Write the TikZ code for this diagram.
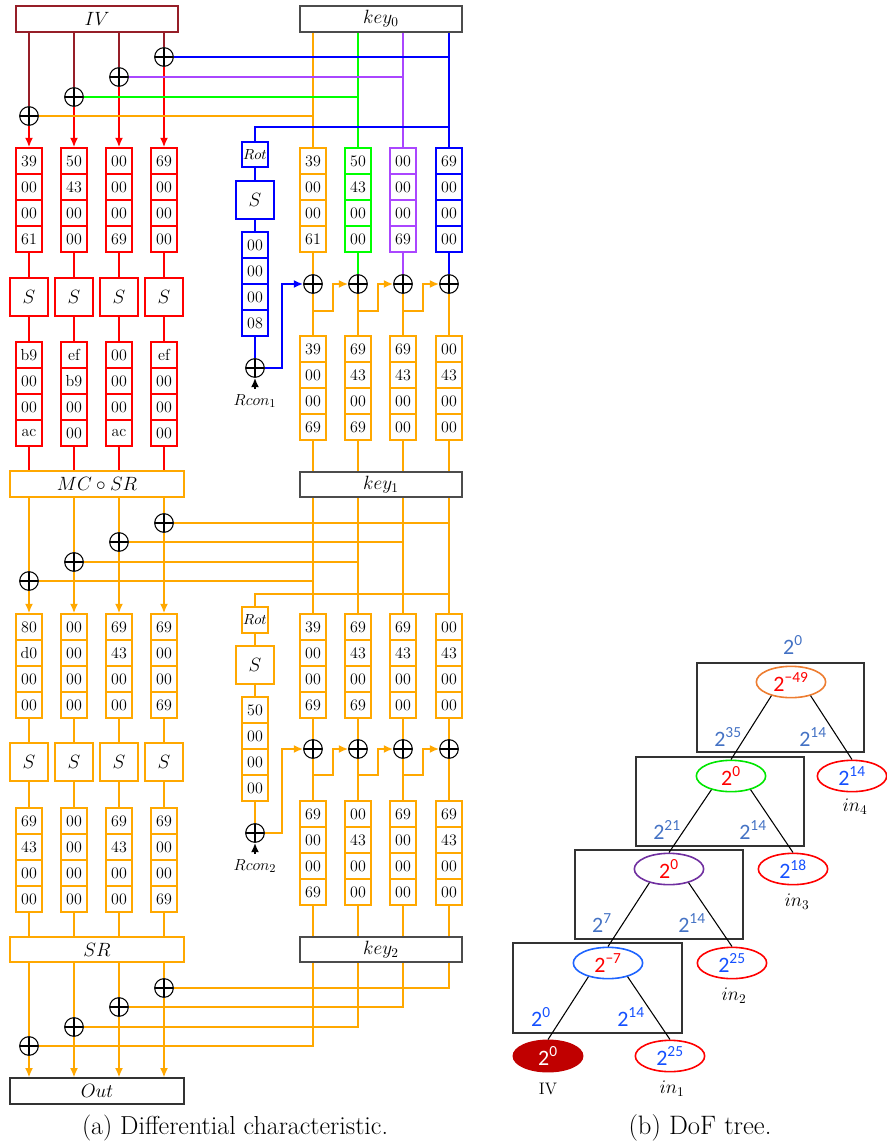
\documentclass[tikz,border=0pt]{standalone}
\usepackage{fontspec}
\usetikzlibrary{arrows.meta,shapes.geometric}
\newfontfamily\calfont{Carlito}

\definecolor{ivred}{RGB}{150,30,40}
\definecolor{orng}{RGB}{255,168,0}
\definecolor{prpl}{RGB}{170,70,255}
\definecolor{lgreen}{RGB}{0,255,0}
\definecolor{trorange}{RGB}{237,125,49}
\definecolor{trgreen}{RGB}{0,230,0}
\definecolor{trpurple}{RGB}{112,48,160}
\definecolor{trblue}{RGB}{30,100,255}
\definecolor{ivfill}{RGB}{192,0,0}
\definecolor{lblblue}{RGB}{68,114,196}
\definecolor{inblue}{RGB}{20,80,255}

\tikzset{
  cell/.style={draw=#1, line width=1.2pt, minimum width=19.5pt, minimum height=19.5pt, inner sep=0pt, font=\fontsize{12}{12}\selectfont},
  sbox/.style={draw=#1, line width=1.3pt, minimum size=29pt, inner sep=0pt, font=\fontsize{15}{15}\selectfont},
  rotbox/.style={draw=#1, line width=1.3pt, minimum width=19.5pt, minimum height=19pt, inner sep=0pt, font=\fontsize{10.5}{10.5}\selectfont},
  bar/.style={draw=#1, line width=1.3pt, minimum width=131pt, minimum height=19pt, inner sep=0pt, font=\fontsize{14}{14}\selectfont},
  keybar/.style={bar=black!70, minimum width=121.5pt, font=\fontsize{14}{14}\selectfont},
  xor/.style={circle, draw=black, line width=0.8pt, minimum size=14pt, inner sep=0pt,
    path picture={\draw[black, line width=0.8pt] (path picture bounding box.north) -- (path picture bounding box.south)
      (path picture bounding box.west) -- (path picture bounding box.east);}},
  tnode/.style={ellipse, draw=#1, line width=1.2pt, minimum width=52pt, minimum height=23.5pt, inner sep=0pt, text=red, font=\calfont\fontsize{16.5}{16.5}\selectfont},
  innode/.style={tnode=red, text=inblue},
  tlabel/.style={text=#1, font=\calfont\fontsize{16.5}{16.5}\selectfont},
  leaf/.style={font=\fontsize{14}{14}\selectfont},
  rconlbl/.style={font=\fontsize{12.5}{12.5}\selectfont},
}

% one column of four byte cells: name, x, y of first cell, colour, values
\newcommand{\cellcol}[5]{%
  \foreach \v [count=\i] in {#5}
    \node[cell=#4] (#1-\i) at (#2,{#3+26*(\i-1)}) {\v};
}
\newcommand{\pw}[1]{2\textsuperscript{#1}}

\begin{document}
\begin{tikzpicture}[x=0.75pt, y=-0.75pt, line width=1.25pt, >={Latex[length=7pt,width=6pt]}]
  \useasboundingbox (0,0) rectangle (886,1145);

  % Round 1: state
  \node[bar=ivred, minimum width=121.5pt] (iv) at (97,19) {$IV$};
  \foreach \x/\y [count=\i] in {29/116,74/97,119/77,164/57}
    \node[xor] (ax\i) at (\x,\y) {};
  \cellcol{a1}{29}{161}{red}{39,00,00,61}
  \cellcol{a2}{74}{161}{red}{50,43,00,00}
  \cellcol{a3}{119}{161}{red}{00,00,00,69}
  \cellcol{a4}{164}{161}{red}{69,00,00,00}
  \foreach \x [count=\i] in {29,74,119,164}
    \node[sbox=red] (as\i) at (\x,297) {$S$};
  \cellcol{b1}{29}{355}{red}{b9,00,00,ac}
  \cellcol{b2}{74}{355}{red}{ef,b9,00,00}
  \cellcol{b3}{119}{355}{red}{00,00,00,ac}
  \cellcol{b4}{164}{355}{red}{ef,00,00,00}
  \node[bar=orng] (mcsr) at (97,484) {$MC\circ SR$};

  % Round 1: key
  \node[keybar] (key0) at (381,19) {$key_0$};
  \cellcol{ka1}{313}{161}{orng}{39,00,00,61}
  \cellcol{ka2}{358}{161}{lgreen}{50,43,00,00}
  \cellcol{ka3}{403}{161}{prpl}{00,00,00,69}
  \cellcol{ka4}{449}{161}{blue}{69,00,00,00}
  \node[rotbox=blue] (rot1) at (255,154.5) {$Rot$};
  \node[sbox=blue] (ks1) at (255,200) {$S$};
  \cellcol{kr1}{255}{245}{blue}{00,00,00,08}
  \node[xor] (rx1) at (255,368) {};
  \node[rconlbl] (rc1) at (255,401) {$Rcon_1$};
  \foreach \x [count=\i] in {313,358,403,449}
    \node[xor] (kx\i) at (\x,284) {};
  \cellcol{kb1}{313}{349}{orng}{39,00,00,69}
  \cellcol{kb2}{358}{349}{orng}{69,43,00,69}
  \cellcol{kb3}{403}{349}{orng}{69,43,00,00}
  \cellcol{kb4}{449}{349}{orng}{00,43,00,00}
  \node[keybar] (key1) at (381,484.5) {$key_1$};

  \foreach \i in {1,...,4} {
    \draw[ivred] (iv.south -| ax\i) -- (ax\i.north);
    \draw[red,->] (ax\i.south) -- (a\i-1.north);
    \draw[red] (a\i-4.south) -- (as\i.north) (as\i.south) -- (b\i-1.north)
      (b\i-4.south) -- (mcsr.north -| b\i-4);
    \draw[orng] (kx\i.south) -- (kb\i-1.north) (kb\i-4.south) -- (key1.north -| kb\i-4);
  }
  \foreach \i/\c in {1/orng,2/lgreen,3/prpl,4/blue} {
    \draw[\c] (key0.south -| ka\i-1) -- (ka\i-1.north);
    \draw[\c] (ax\i.east) -- (ax\i.east -| ka\i-1);
    \draw[\c] (ka\i-4.south) -- (kx\i.north);
  }
  \draw[blue] (rot1.north) -- ++(0,-14) coordinate (t1) -- (t1 -| ka4-1);
  \draw[blue] (rot1.south) -- (ks1.north) (ks1.south) -- (kr1-1.north) (kr1-4.south) -- (rx1.north);
  \draw[->] (rc1.north) -- (rx1.south);
  \draw[blue,->] (rx1.east) -- ++(17,0) |- (kx1.west);
  \foreach \i [evaluate=\i as \j using int(\i+1)] in {1,2,3}
    \draw[orng,->] (kx\i.south) -- ++(0,17) -- ++(20,0) |- (kx\j.west);

  % Round 2: state
  \foreach \x/\y [count=\i] in {29/581,74/562,119/542,164/523}
    \node[xor] (bx\i) at (\x,\y) {};
  \cellcol{c1}{29}{627}{orng}{80,d0,00,00}
  \cellcol{c2}{74}{627}{orng}{00,00,00,00}
  \cellcol{c3}{119}{627}{orng}{69,43,00,00}
  \cellcol{c4}{164}{627}{orng}{69,00,00,69}
  \foreach \x [count=\i] in {29,74,119,164}
    \node[sbox=orng] (cs\i) at (\x,762) {$S$};
  \cellcol{d1}{29}{821}{orng}{69,43,00,00}
  \cellcol{d2}{74}{821}{orng}{00,00,00,00}
  \cellcol{d3}{119}{821}{orng}{69,43,00,00}
  \cellcol{d4}{164}{821}{orng}{69,00,00,69}
  \node[bar=orng] (sr) at (97,949.5) {$SR$};

  % Round 2: key
  \cellcol{kc1}{313}{627}{orng}{39,00,00,69}
  \cellcol{kc2}{358}{627}{orng}{69,43,00,69}
  \cellcol{kc3}{403}{627}{orng}{69,43,00,00}
  \cellcol{kc4}{449}{627}{orng}{00,43,00,00}
  \node[rotbox=orng] (rot2) at (255,620) {$Rot$};
  \node[sbox=orng] (ks2) at (255,665) {$S$};
  \cellcol{kr2}{255}{710}{orng}{50,00,00,00}
  \node[xor] (rx2) at (255,833) {};
  \node[rconlbl] (rc2) at (255,866) {$Rcon_2$};
  \foreach \x [count=\i] in {313,358,403,449}
    \node[xor] (ky\i) at (\x,749) {};
  \cellcol{kd1}{313}{814}{orng}{69,00,00,69}
  \cellcol{kd2}{358}{814}{orng}{00,43,00,00}
  \cellcol{kd3}{403}{814}{orng}{69,00,00,00}
  \cellcol{kd4}{449}{814}{orng}{69,43,00,00}
  \node[keybar] (key2) at (381,949.5) {$key_2$};

  % Output
  \foreach \x/\y [count=\i] in {29/1046,74/1027,119/1007,164/988}
    \node[xor] (cx\i) at (\x,\y) {};
  \node[bar=black!80] (out) at (97,1091) {$Out$};

  \foreach \i in {1,...,4} {
    \draw[orng] (mcsr.south -| b\i-4) -- (bx\i.north);
    \draw[orng,->] (bx\i.south) -- (c\i-1.north);
    \draw[orng] (bx\i.east) -- (bx\i.east -| kc\i-1);
    \draw[orng] (key1.south -| kc\i-1) -- (kc\i-1.north);
    \draw[orng] (c\i-4.south) -- (cs\i.north) (cs\i.south) -- (d\i-1.north)
      (d\i-4.south) -- (sr.north -| d\i-4);
    \draw[orng] (kc\i-4.south) -- (ky\i.north) (ky\i.south) -- (kd\i-1.north)
      (kd\i-4.south) -- (key2.north -| kd\i-4);
    \draw[orng] (sr.south -| d\i-4) -- (cx\i.north);
    \draw[orng,->] (cx\i.south) -- (out.north -| cx\i);
    \draw[orng] (cx\i.east) -- (cx\i.east -| kd\i-4) -- (key2.south -| kd\i-4);
  }
  \draw[orng] (rot2.north) -- ++(0,-12.5) coordinate (t2) -- (t2 -| kc4-1);
  \draw[orng] (rot2.south) -- (ks2.north) (ks2.south) -- (kr2-1.north) (kr2-4.south) -- (rx2.north);
  \draw[->] (rc2.north) -- (rx2.south);
  \draw[orng,->] (rx2.east) -- ++(17,0) |- (ky1.west);
  \foreach \i [evaluate=\i as \j using int(\i+1)] in {1,2,3}
    \draw[orng,->] (ky\i.south) -- ++(0,16) -- ++(20,0) |- (ky\j.west);

  \node[font=\fontsize{19.5}{22}\selectfont] (capa) at (235,1128) {(a) Differential characteristic.};

  % DoF tree
  \draw[line width=1.2pt, black!80] (697,663) rectangle (864,752);
  \draw[line width=1.2pt, black!80] (636,757) rectangle (804,846);
  \draw[line width=1.2pt, black!80] (575,850) rectangle (743,939);
  \draw[line width=1.2pt, black!80] (513,943) rectangle (682,1033);

  \node[tnode=trorange] (n4) at (791,682) {\pw{−49}};
  \node[tnode=trgreen] (n3) at (731,776) {\pw{0}};
  \node[tnode=trpurple] (n2) at (669,869) {\pw{0}};
  \node[tnode=trblue] (n1) at (608,963) {\pw{−7}};
  \node[innode] (in4) at (852,776) {\pw{14}};
  \node[innode] (in3) at (793,869) {\pw{18}};
  \node[innode] (in2) at (732,963) {\pw{25}};
  \node[innode] (in1) at (670,1056) {\pw{25}};
  \node[tnode=ivfill, fill=ivfill, text=white] (ivl) at (548,1056) {\pw{0}};

  \draw[line width=0.8pt] (n4.215) -- (n3.north) (n4.325) -- (in4.north);
  \draw[line width=0.8pt] (n3.215) -- (n2.north) (n3.325) -- (in3.north);
  \draw[line width=0.8pt] (n2.215) -- (n1.north) (n2.325) -- (in2.north);
  \draw[line width=0.8pt] (n1.215) -- (ivl.north) (n1.325) -- (in1.north);

  \node[tlabel=lblblue] (top) at (793,645) {\pw{0}};
  \node[tlabel=lblblue] (l4a) at (728,737) {\pw{35}};
  \node[tlabel=lblblue] (l4b) at (813,737) {\pw{14}};
  \node[tlabel=lblblue] (l3a) at (667,830) {\pw{21}};
  \node[tlabel=lblblue] (l3b) at (753,830) {\pw{14}};
  \node[tlabel=lblblue] (l2a) at (602,923) {\pw{7}};
  \node[tlabel=lblblue] (l2b) at (692,923) {\pw{14}};
  \node[tlabel=inblue] (l1a) at (541,1017) {\pw{0}};
  \node[tlabel=inblue] (l1b) at (631,1017) {\pw{14}};

  \node[leaf] (lin4) at (855,807) {$in_4$};
  \node[leaf] (lin3) at (797,902) {$in_3$};
  \node[leaf] (lin2) at (734,996) {$in_2$};
  \node[leaf] (lin1) at (672,1089) {$in_1$};
  \node[font=\fontsize{12.5}{12.5}\selectfont] (liv) at (548,1089) {IV};

  \node[font=\fontsize{20}{22}\selectfont] (capb) at (700,1128) {(b) DoF tree.};
\end{tikzpicture}
\end{document}
